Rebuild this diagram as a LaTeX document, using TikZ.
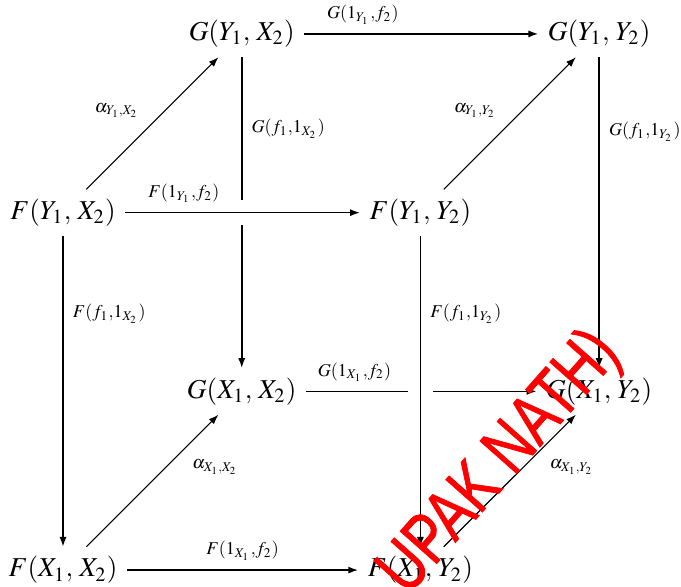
\documentclass[tikz,border=0pt]{standalone}
\usepackage{amsmath, amssymb}
\usepackage{mathptmx}
\usepackage{fontspec}
\newfontfamily\markfont[FakeBold=1.2]{Liberation Sans}
\usepackage{tikz}
\usetikzlibrary{positioning, arrows.meta}

\begin{document}
\begin{tikzpicture}[x=2.3cm, y=2.3cm,
    >={Latex[length=3.6pt, width=2.6pt]},
    map/.style={->, line width=0.6pt},
    nat/.style={->, line width=0.4pt},
    front/.style={preaction={draw=white, line width=9pt, -}},
    lab/.style={font=\fontsize{6.6}{8}\selectfont}]
    \useasboundingbox (-0.3526,-0.0895) rectangle (3.458,3.19);
    % Back face
    \node (gyx) at (1,3) {$G(Y_1,\, X_2)$};
    \node (gyy) at (3,3) {$G(Y_1,\, Y_2)$};
    \node (gxx) at (1,1) {$G(X_1,\, X_2)$};
    \node (gxy) at (3,1) {$G(X_1,\, Y_2)$};
    % Front face
    \node (fyx) at (0,2) {$F(Y_1,\, X_2)$};
    \node (fyy) at (2,2) {$F(Y_1,\, Y_2)$};
    \node (fxx) at (0,0) {$F(X_1,\, X_2)$};
    \node (fxy) at (2,0) {$F(X_1,\, Y_2)$};

    % Arrows of G
    \draw[map] (gyx) -- node[lab, above, pos=0.25] {$G(1_{Y_1}{,}f_2)$} (gyy);
    \draw[map] (gyx) -- node[lab, right, pos=0.23] {$G(f_1{,}1_{X_2})$} (gxx);
    \draw[map] (gyy) -- node[lab, right, pos=0.24] {$G(f_1{,}1_{Y_2})$} (gxy);
    \draw[map] (gxx) -- node[lab, above, pos=0.21] {$G(1_{X_1}{,}f_2)$} (gxy);
    % Arrows of F (in front)
    \draw[map, front] (fyx) -- node[lab, above, pos=0.25] {$F(1_{Y_1}{,}f_2)$} (fyy);
    \draw[map, front] (fyx) -- node[lab, right, pos=0.25] {$F(f_1{,}1_{X_2})$} (fxx);
    \draw[map, front] (fyy) -- node[lab, right, pos=0.25] {$F(f_1{,}1_{Y_2})$} (fxy);
    \draw[map] (fxx) -- node[lab, above] {$F(1_{X_1}{,}f_2)$} (fxy);
    % Components of alpha
    \draw[nat] (fyx) -- node[lab, above left, pos=0.47] {$\alpha_{Y_1,X_2}$} (gyx);
    \draw[nat] (fyy) -- node[lab, above left, pos=0.47] {$\alpha_{Y_1,Y_2}$} (gyy);
    \draw[nat] (fxx) -- node[lab, below right, pos=0.73] {$\alpha_{X_1,X_2}$} (gxx);
    \draw[nat] (fxy) -- node[lab, below right, pos=0.73] {$\alpha_{X_1,Y_2}$} (gxy);

    % Stamp
    \node[red, rotate=48.5, xscale=0.77, anchor=east, inner sep=0pt,
          font=\markfont\fontsize{26}{26}\selectfont] (stamp) at (3.05,1.275) {UPAK NATH)};
\end{tikzpicture}
\end{document}
